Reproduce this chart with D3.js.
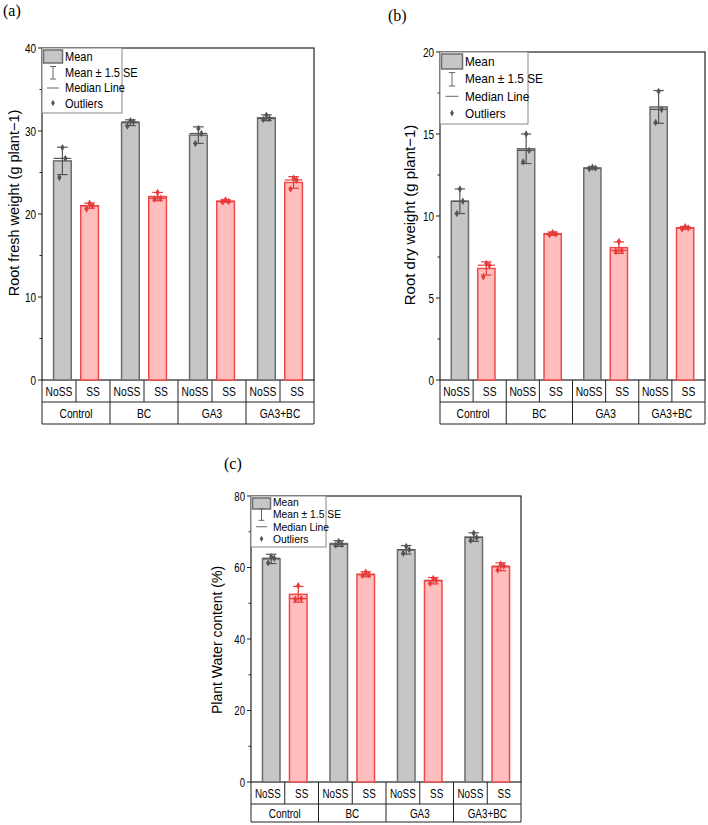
<!DOCTYPE html>
<html>
<head>
<meta charset="utf-8">
<script src="https://cdn.jsdelivr.net/npm/d3@7"></script>
<style>
body { margin: 0; background: #fff; }
</style>
</head>
<body>
<svg id="chart" width="708" height="825"></svg>
<script>
// categories
var groups = ["Control", "BC", "GA3", "GA3+BC"];
var stress = ["NoSS", "SS"];

// bar order: Control NoSS, Control SS, BC NoSS, BC SS, GA3 NoSS, GA3 SS, GA3+BC NoSS, GA3+BC SS
var freshMean = [26.4, 21.0, 31.0, 22.1, 29.5, 21.55, 31.6, 23.8];
var freshErr = [1.65, 0.3, 0.35, 0.5, 1.0, 0.15, 0.35, 0.7];
var freshPoints = [
	[28.0, 26.7, 24.4], [21.3, 21.0, 20.6],
	[31.25, 31.1, 30.6], [22.6, 21.9, 21.8],
	[30.3, 29.7, 28.5], [21.7, 21.5, 21.45],
	[31.9, 31.5, 31.4], [24.3, 24.1, 23.0]
];

var dryMean = [10.9, 6.8, 14.1, 8.92, 12.92, 8.07, 16.65, 9.28];
var dryErr = [0.75, 0.4, 0.9, 0.1, 0.06, 0.35, 1.0, 0.08];
var dryPoints = [
	[11.65, 10.9, 10.15], [7.1, 7.0, 6.3],
	[15.0, 14.0, 13.3], [9.0, 8.9, 8.85],
	[12.97, 12.92, 12.88], [8.45, 7.9, 7.85],
	[17.6, 16.5, 15.7], [9.35, 9.27, 9.2]
];

var waterMean = [62.4, 52.5, 66.7, 58.1, 64.95, 56.3, 68.5, 60.2];
var waterErr = [1.3, 2.2, 0.8, 0.7, 1.2, 0.9, 1.2, 1.1];
var waterPoints = [
	[63.0, 62.6, 61.3], [54.9, 51.3, 51.1],
	[67.3, 66.5, 66.3], [58.7, 58.0, 57.8],
	[65.9, 65.0, 64.0], [56.9, 56.4, 55.6],
	[69.6, 68.4, 67.6], [60.9, 60.4, 59.3]
];

var legendItems = ["Mean", "Mean \u00b1 1.5 SE", "Median Line", "Outliers"];

var fills = { "NoSS": "#c6c6c6", "SS": "#ffbdbd" };
var strokes = { "NoSS": "#6e6e6e", "SS": "#f04a4a" };
var marks = { "NoSS": "#555555", "SS": "#e83a3a" };
var jitter = [0, 3, -3];

var svg = d3.select("#chart");

// text squeezed horizontally, like the original export
function sqText(parent, x, y, size, sx, anchor, txt) {
	return parent.append("text")
		.attr("transform", "translate(" + x + "," + y + ") scale(" + sx + ",1)")
		.attr("text-anchor", anchor)
		.style("font-family", "'Liberation Sans', Arial, sans-serif")
		.style("font-size", size + "px")
		.text(txt);
}

function drawPanel(cfg, means, errs, points) {
	var g = svg.append("g");

	var y = d3.scaleLinear().domain([0, cfg.max]).range([cfg.yBottom, cfg.yTop]);
	var xg = d3.scaleBand().domain(groups).range([cfg.x0, cfg.x1]).padding(0);
	var xs = d3.scaleBand().domain(stress).range([0, xg.bandwidth()])
		.paddingInner(0.35).paddingOuter(0.425);
	var xt = d3.scaleBand().domain(stress).range([0, xg.bandwidth()]).padding(0);

	var bars = [];
	groups.forEach(function(gr, gi) {
		stress.forEach(function(s, si) {
			var i = gi * stress.length + si;
			bars.push({ group: gr, stress: s, mean: means[i], err: errs[i], pts: points[i] });
		});
	});

	// frame
	g.append("rect")
		.attr("x", cfg.x0).attr("y", cfg.yTop)
		.attr("width", cfg.x1 - cfg.x0).attr("height", cfg.yBottom - cfg.yTop)
		.attr("fill", "none").attr("stroke", "#222").attr("stroke-width", 1.2);

	// y ticks
	var majors = d3.range(0, cfg.max + cfg.step / 2, cfg.step);
	var minors = d3.range(cfg.step / 2, cfg.max, cfg.step);
	g.selectAll(".major").data(majors).enter().append("line")
		.attr("x1", cfg.x0 - 4).attr("x2", cfg.x0)
		.attr("y1", function(d) { return y(d); }).attr("y2", function(d) { return y(d); })
		.attr("stroke", "#222").attr("stroke-width", 1);
	g.selectAll(".minor").data(minors).enter().append("line")
		.attr("x1", cfg.x0 - 2.5).attr("x2", cfg.x0)
		.attr("y1", function(d) { return y(d); }).attr("y2", function(d) { return y(d); })
		.attr("stroke", "#222").attr("stroke-width", 1);
	majors.forEach(function(d) {
		sqText(g, cfg.x0 - 6, y(d) + 4.5, cfg.tickFont, 0.8, "end", d);
	});

	// y title
	g.append("text")
		.attr("transform", "translate(" + cfg.titleX + "," + cfg.titleY + ") rotate(-90)")
		.attr("text-anchor", "middle")
		.attr("dy", "0.35em")
		.style("font-family", "'Liberation Sans', Arial, sans-serif")
		.style("font-size", cfg.titleSize + "px")
		.text(cfg.title);

	// bars
	var bw = xs.bandwidth();
	bars.forEach(function(b) {
		var bx = xg(b.group) + xs(b.stress);
		var cx = bx + bw / 2;
		g.append("rect")
			.attr("x", bx).attr("y", y(b.mean))
			.attr("width", bw).attr("height", y(0) - y(b.mean))
			.attr("fill", fills[b.stress]).attr("stroke", strokes[b.stress]).attr("stroke-width", 1.5);
		var med = d3.median(b.pts);
		g.append("line")
			.attr("x1", bx).attr("x2", bx + bw)
			.attr("y1", y(med)).attr("y2", y(med))
			.attr("stroke", marks[b.stress]).attr("stroke-width", 1.2);
		var capW = bw * 0.6;
		var eb = g.append("g").attr("stroke", marks[b.stress]).attr("stroke-width", 1.2);
		eb.append("line").attr("x1", cx).attr("x2", cx)
			.attr("y1", y(b.mean - b.err)).attr("y2", y(b.mean + b.err));
		[b.mean - b.err, b.mean + b.err].forEach(function(v) {
			eb.append("line").attr("x1", cx - capW / 2).attr("x2", cx + capW / 2)
				.attr("y1", y(v)).attr("y2", y(v));
		});
		g.selectAll(null).data(b.pts).enter().append("path")
			.attr("d", d3.symbol(d3.symbolDiamond, 16))
			.attr("transform", function(d, i) { return "translate(" + (cx + jitter[i]) + "," + y(d) + ")"; })
			.attr("fill", marks[b.stress]);
	});

	// category table under axis
	var r1 = cfg.yBottom, r2 = r1 + cfg.rowH[0], r3 = r2 + cfg.rowH[1];
	var tg = g.append("g").attr("stroke", "#222").attr("stroke-width", 1);
	tg.append("line").attr("x1", cfg.x0).attr("x2", cfg.x1).attr("y1", r2).attr("y2", r2);
	tg.append("line").attr("x1", cfg.x0).attr("x2", cfg.x1).attr("y1", r3).attr("y2", r3);
	tg.append("line").attr("x1", cfg.x0).attr("x2", cfg.x0).attr("y1", r1).attr("y2", r3);
	tg.append("line").attr("x1", cfg.x1).attr("x2", cfg.x1).attr("y1", r1).attr("y2", r3);
	groups.forEach(function(gr, gi) {
		if (gi > 0) {
			tg.append("line").attr("x1", xg(gr)).attr("x2", xg(gr)).attr("y1", r1).attr("y2", r3);
		}
		tg.append("line").attr("x1", xg(gr) + xt("SS")).attr("x2", xg(gr) + xt("SS"))
			.attr("y1", r1).attr("y2", r2);
		stress.forEach(function(s) {
			sqText(g, xg(gr) + xt(s) + xt.bandwidth() / 2, (r1 + r2) / 2 + cfg.tableFont * 0.36,
				cfg.tableFont, 0.76, "middle", s);
		});
		sqText(g, xg(gr) + xg.bandwidth() / 2, (r2 + r3) / 2 + cfg.tableFont * 0.36,
			cfg.tableFont, 0.76, "middle", gr);
	});

	// legend
	var L = cfg.legend;
	var k = L.font / 12.5;
	var lg = g.append("g").attr("transform", "translate(" + cfg.x0 + "," + cfg.yTop + ")");
	lg.append("rect").attr("x", 0).attr("y", 0).attr("width", L.w).attr("height", L.h)
		.attr("fill", "#fff").attr("stroke", "#888").attr("stroke-width", 1);
	lg.append("rect").attr("x", 1.5).attr("y", 2).attr("width", L.sw).attr("height", L.sh)
		.attr("fill", fills.NoSS).attr("stroke", strokes.NoSS).attr("stroke-width", 1.5);
	var gx = 1.5 + L.sw / 2;
	legendItems.forEach(function(t, i) {
		var by = L.first + i * L.row;
		sqText(lg, L.sw + 4, by, L.font, 0.88, "start", t);
		if (i === 1) {
			var e = lg.append("g").attr("stroke", "#666").attr("stroke-width", 1);
			e.append("line").attr("x1", gx).attr("x2", gx).attr("y1", by - 10 * k).attr("y2", by + 2.5 * k);
			e.append("line").attr("x1", gx - 3 * k).attr("x2", gx + 3 * k).attr("y1", by - 10 * k).attr("y2", by - 10 * k);
			e.append("line").attr("x1", gx - 3 * k).attr("x2", gx + 3 * k).attr("y1", by + 2.5 * k).attr("y2", by + 2.5 * k);
		} else if (i === 2) {
			lg.append("line").attr("x1", gx - 6 * k).attr("x2", gx + 6 * k)
				.attr("y1", by - 4 * k).attr("y2", by - 4 * k)
				.attr("stroke", "#666").attr("stroke-width", 1);
		} else if (i === 3) {
			lg.append("path").attr("d", d3.symbol(d3.symbolDiamond, 12 * k))
				.attr("transform", "translate(" + gx + "," + (by - 4.5 * k) + ")")
				.attr("fill", "#555");
		}
	});

	// panel letter
	svg.append("text")
		.attr("x", cfg.labelX).attr("y", cfg.labelY)
		.style("font-family", "'Liberation Serif', 'DejaVu Serif', serif")
		.style("font-size", "16px")
		.text(cfg.label);
}

drawPanel({
	label: "(a)", labelX: 3, labelY: 16,
	x0: 42, x1: 314, yTop: 48, yBottom: 380, max: 40, step: 10,
	title: "Root fresh weight (g plant\u22121)", titleX: 14, titleY: 203, titleSize: 14.5,
	tickFont: 12.5, tableFont: 13.5, rowH: [22, 22],
	legend: { w: 80, h: 65, sw: 19, sh: 13, first: 13, row: 15.5, font: 12.5 }
}, freshMean, freshErr, freshPoints);

drawPanel({
	label: "(b)", labelX: 388, labelY: 21,
	x0: 440, x1: 705, yTop: 52, yBottom: 380, max: 20, step: 5,
	title: "Root dry weight (g plant\u22121)", titleX: 410, titleY: 215, titleSize: 15,
	tickFont: 12.5, tableFont: 13.5, rowH: [22, 22],
	legend: { w: 88, h: 72, sw: 21, sh: 15, first: 14, row: 17.3, font: 13.4 }
}, dryMean, dryErr, dryPoints);

drawPanel({
	label: "(c)", labelX: 224, labelY: 469,
	x0: 251, x1: 521, yTop: 496, yBottom: 782, max: 80, step: 20,
	title: "Plant Water content (%)", titleX: 217, titleY: 640, titleSize: 14,
	tickFont: 12, tableFont: 13, rowH: [22, 18],
	legend: { w: 75, h: 51, sw: 18, sh: 11, first: 9.5, row: 12.5, font: 11.7 }
}, waterMean, waterErr, waterPoints);
</script>
</body>
</html>
